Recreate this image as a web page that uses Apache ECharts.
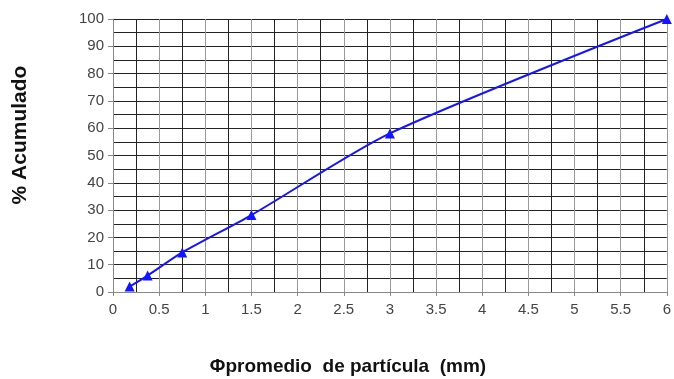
<!DOCTYPE html>
<html>
<head>
<meta charset="utf-8">
<script src="https://cdn.jsdelivr.net/npm/echarts@6/dist/echarts.min.js"></script>
<style>
  html, body { margin: 0; padding: 0; background: #fff; }
  #chart { width: 674px; height: 379px; }
</style>
</head>
<body>
<div id="chart"></div>
<script>
const diametros = [0.18, 0.375, 0.75, 1.5, 3, 6];
const acumulado = [2, 6, 14.5, 28.2, 58.1, 100];
const yTitulo = '% Acumulado';
const xTitulo = 'Φpromedio  de partícula  (mm)';

const chart = echarts.init(document.getElementById('chart'));
const fuente = 'Liberation Sans, Arial, sans-serif';

chart.setOption({
    animation: false,
    grid: { left: 113, right: 6, top: 19, bottom: 87 },
    xAxis: {
        type: 'value',
        min: 0,
        max: 6,
        interval: 0.5,
        axisLine: { show: true, onZero: false, lineStyle: { color: '#888', width: 1 } },
        axisTick: { show: true, length: 4, lineStyle: { color: '#888' } },
        axisLabel: { color: '#444', fontSize: 15, fontFamily: fuente, margin: 10 },
        splitLine: { show: true, lineStyle: { color: '#999', width: 1 } },
        minorTick: { show: false, splitNumber: 2 },
        minorSplitLine: { show: true, lineStyle: { color: '#222', width: 1 } }
    },
    yAxis: {
        type: 'value',
        min: 0,
        max: 100,
        interval: 10,
        axisLine: { show: true, lineStyle: { color: '#888', width: 1 } },
        axisTick: { show: true, length: 5, lineStyle: { color: '#888' } },
        axisLabel: { color: '#444', fontSize: 15, fontFamily: fuente, margin: 9 },
        splitLine: { show: true, lineStyle: { color: '#222', width: 1 } },
        minorTick: { show: false, splitNumber: 2 },
        minorSplitLine: { show: true, lineStyle: { color: '#222', width: 1 } }
    },
    graphic: [
        {
            type: 'text',
            x: 20, y: 135,
            rotation: Math.PI / 2,
            style: {
                text: yTitulo,
                fill: '#111',
                font: 'bold 21px ' + fuente,
                textAlign: 'center',
                textVerticalAlign: 'middle'
            }
        },
        {
            type: 'text',
            x: 348,
            y: 367,
            style: {
                text: xTitulo,
                fill: '#111',
                font: 'bold 19px ' + fuente,
                textAlign: 'center',
                textVerticalAlign: 'middle'
            }
        }
    ],
    series: [
        {
            type: 'line',
            data: diametros.map((d, i) => [d, acumulado[i]]),
            smooth: 0.25,
            symbol: 'triangle',
            symbolSize: 10,
            lineStyle: { color: '#1414ff', width: 2 },
            itemStyle: { color: '#1414ff' }
        }
    ]
});
</script>
</body>
</html>
